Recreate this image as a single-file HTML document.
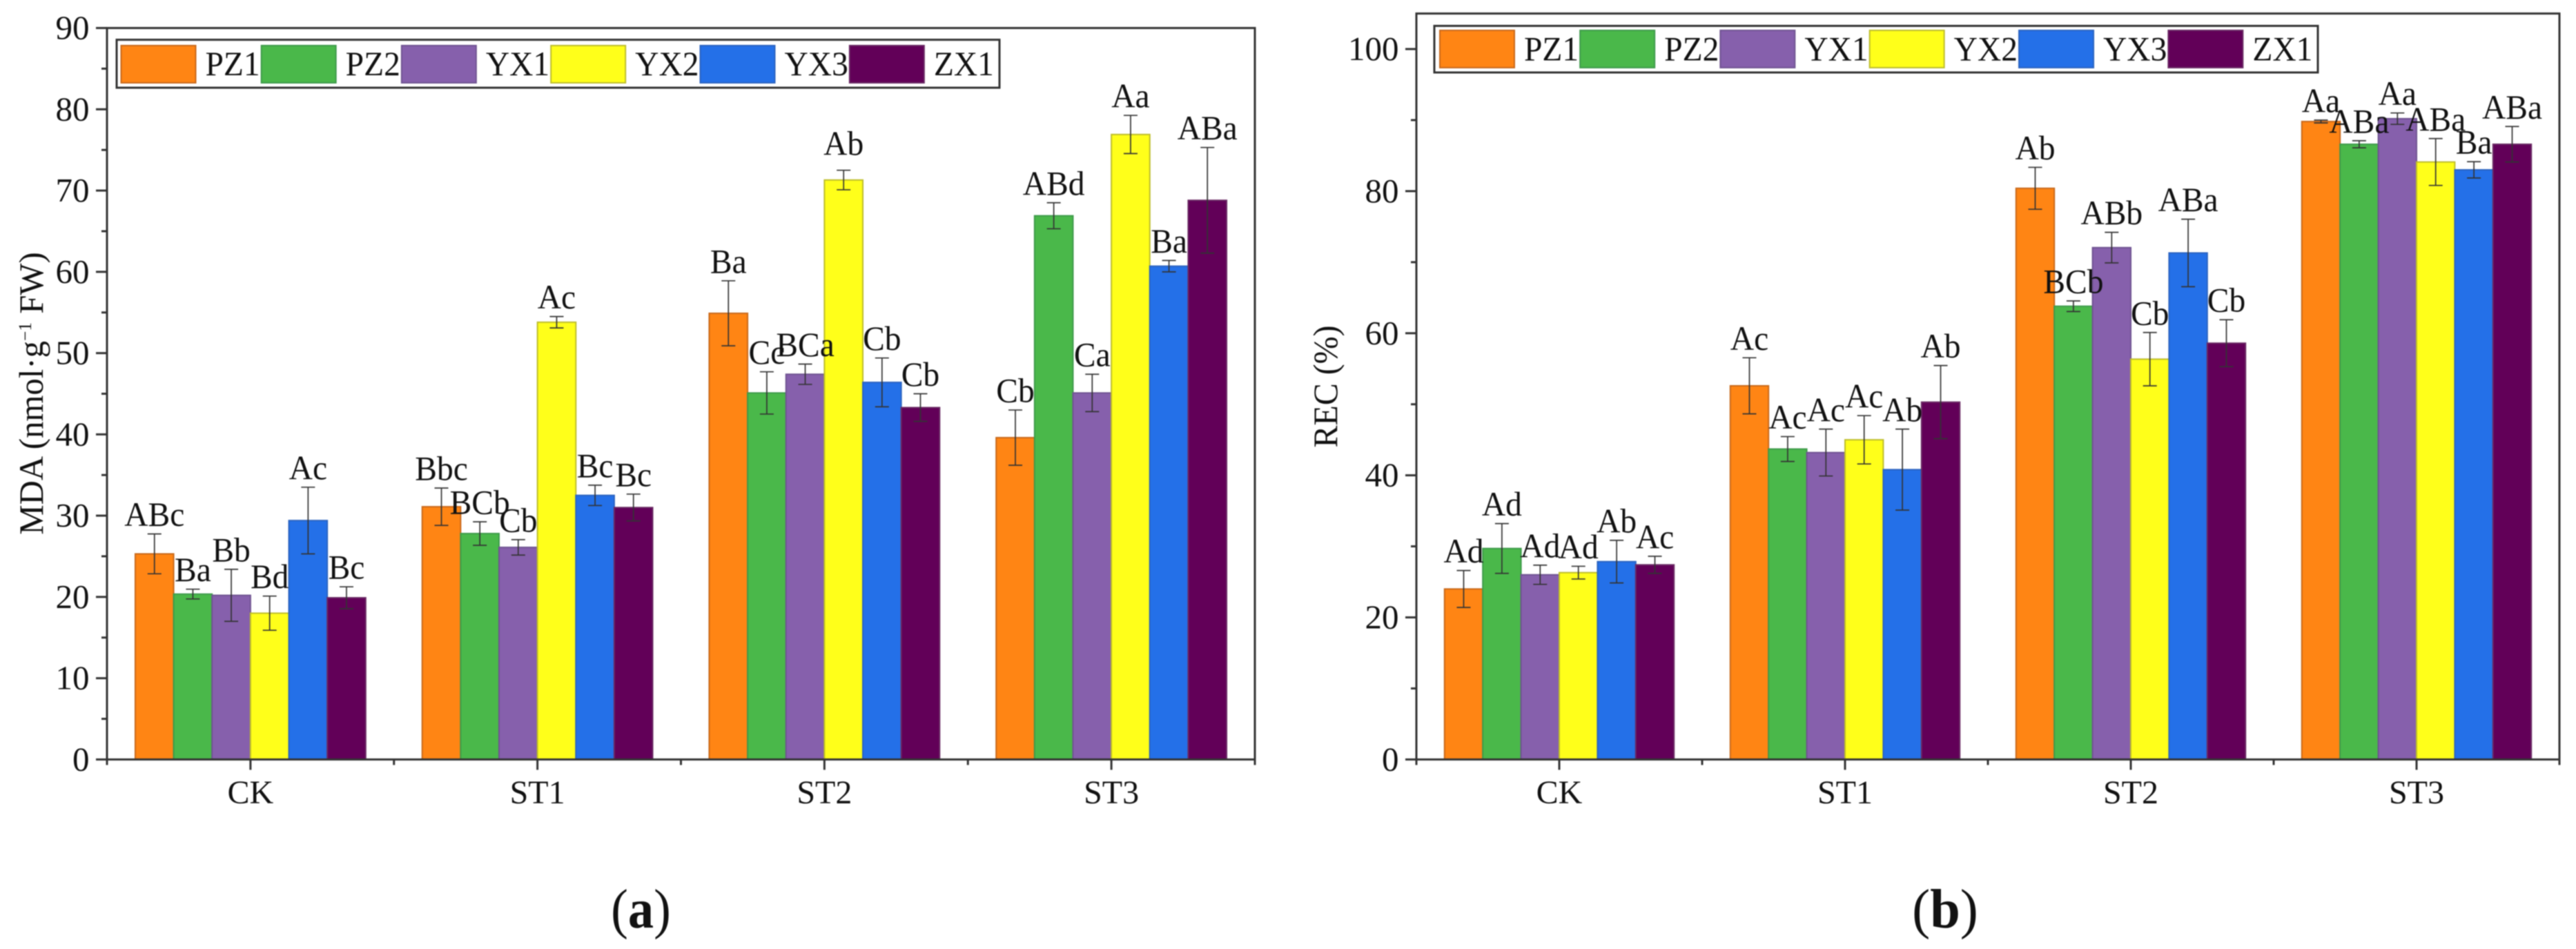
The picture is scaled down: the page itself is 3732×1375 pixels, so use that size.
<!DOCTYPE html>
<html lang="en">
<head>
<meta charset="utf-8">
<title>MDA and REC bar charts</title>
<style>
html,body{margin:0;padding:0;background:#fff;width:3732px;height:1375px;overflow:hidden}
svg{display:block;filter:blur(0.7px)}
text{font-family:"Liberation Serif",serif;fill:#111}
</style>
</head>
<body>
<svg id="figure" xmlns="http://www.w3.org/2000/svg" width="3732" height="1375" viewBox="0 0 3732 1375">
  <rect width="3732" height="1375" fill="#fff"/>
  <text transform="translate(928.5 1344) scale(0.93 1)" font-size="80" text-anchor="middle">(<tspan font-weight="bold">a</tspan>)</text>
  <text transform="translate(2818 1344) scale(0.98 1)" font-size="80" text-anchor="middle">(<tspan font-weight="bold">b</tspan>)</text>
</svg>
<script>
const categories = ['CK', 'ST1', 'ST2', 'ST3'];
const seriesNames = ['PZ1', 'PZ2', 'YX1', 'YX2', 'YX3', 'ZX1'];

const mdaTicks = [0, 10, 20, 30, 40, 50, 60, 70, 80, 90];
const mdaMinorTicks = [5, 15, 25, 35, 45, 55, 65, 75, 85];
const mdaMeans = [
  [25.3, 20.35, 20.2, 18.0, 29.4, 19.9],
  [31.1, 27.8, 26.1, 53.8, 32.5, 31.0],
  [54.9, 45.1, 47.4, 71.3, 46.4, 43.3],
  [39.6, 66.9, 45.1, 76.9, 60.7, 68.8]
];
const mdaErrors = [
  [2.45, 0.6, 3.2, 2.1, 4.1, 1.35],
  [2.3, 1.45, 0.95, 0.7, 1.25, 1.65],
  [4.0, 2.6, 1.25, 1.2, 3.0, 1.7],
  [3.4, 1.6, 2.3, 2.35, 0.7, 6.5]
];
const mdaLetters = [
  ['ABc', 'Ba', 'Bb', 'Bd', 'Ac', 'Bc'],
  ['Bbc', 'BCb', 'Cb', 'Ac', 'Bc', 'Bc'],
  ['Ba', 'Cc', 'BCa', 'Ab', 'Cb', 'Cb'],
  ['Cb', 'ABd', 'Ca', 'Aa', 'Ba', 'ABa']
];

const recTicks = [0, 20, 40, 60, 80, 100];
const recMinorTicks = [10, 30, 50, 70, 90];
const recMeans = [
  [24.0, 29.7, 26.0, 26.3, 27.85, 27.4],
  [52.6, 43.7, 43.2, 45.0, 40.8, 50.3],
  [80.4, 63.8, 72.05, 56.35, 71.3, 58.6],
  [89.8, 86.6, 90.2, 84.1, 83.0, 86.6]
];
const recErrors = [
  [2.6, 3.5, 1.35, 0.9, 3.0, 1.2],
  [3.95, 1.75, 3.3, 3.4, 5.7, 5.15],
  [2.95, 0.75, 2.15, 3.75, 4.75, 3.3],
  [0.2, 0.5, 0.8, 3.3, 1.15, 2.5]
];
const recLetters = [
  ['Ad', 'Ad', 'Ad', 'Ad', 'Ab', 'Ac'],
  ['Ac', 'Ac', 'Ac', 'Ac', 'Ab', 'Ab'],
  ['Ab', 'BCb', 'ABb', 'Cb', 'ABa', 'Cb'],
  ['Aa', 'ABa', 'Aa', 'ABa', 'Ba', 'ABa']
];

const fillColors = ['#FF8514', '#4AB84A', '#8660AC', '#FFFF1A', '#2470E8', '#620058'];
const edgeColors = ['#c8681a', '#3d9a4a', '#6f5391', '#bdbd2a', '#2b63c0', '#6a2a64'];
const inkColor = '#333';

const NS = 'http://www.w3.org/2000/svg';
const figure = document.getElementById('figure');

function make(parent, tag, attrs, content) {
  const el = document.createElementNS(NS, tag);
  for (const k in attrs) el.setAttribute(k, attrs[k]);
  if (content !== undefined) el.textContent = content;
  parent.appendChild(el);
  return el;
}

function drawPanel(p) {
  const root = make(figure, 'g', {});
  
  

  const yPos = v => p.bottom - (v - 0) * (p.bottom - p.top) / p.yMax;
  const band = (p.right - p.left) / categories.length;
  const xPos = i => p.left + band * (i + 0.5);
  const barW = band * 0.803 / seriesNames.length;

  // bars
  p.means.forEach((row, c) => {
    row.forEach((v, s) => {
      const x = xPos(c) + (s - seriesNames.length / 2) * barW;
      const bar = make(root, 'rect', {
        x: x, y: yPos(v), width: barW, height: p.bottom - yPos(v),
        fill: fillColors[s], stroke: edgeColors[s], 'stroke-width': 2
      });
      
      
    });
  });

  // error bars
  p.means.forEach((row, c) => {
    row.forEach((v, s) => {
      const cx = xPos(c) + (s - seriesNames.length / 2 + 0.5) * barW;
      const hi = yPos(v + p.errors[c][s]);
      const lo = yPos(v - p.errors[c][s]);
      const err = make(root, 'path', {
        d: 'M' + (cx - 10) + ' ' + hi + 'H' + (cx + 10) + 'M' + cx + ' ' + hi + 'V' + lo + 'M' + (cx - 10) + ' ' + lo + 'H' + (cx + 10),
        fill: 'none', stroke: '#333', 'stroke-width': 1.7
      });
      
      
    });
  });

  // axis frame
  const frame = make(root, 'rect', {
    x: p.left, y: p.top, width: p.right - p.left, height: p.bottom - p.top,
    fill: 'none', stroke: inkColor, 'stroke-width': 3
  });
  
  

  // y ticks
  p.ticks.forEach(t => {
    const tick = make(root, 'line', {
      x1: p.left - 16, x2: p.left, y1: yPos(t), y2: yPos(t), stroke: inkColor, 'stroke-width': 3
    });
    
    
    const label = make(root, 'text', {
      x: p.left - 25.5, y: yPos(t) + 16, 'font-size': 49, 'text-anchor': 'end'
    }, String(t));
    
    
  });
  p.minorTicks.forEach(t => {
    const tick = make(root, 'line', {
      x1: p.left - 8, x2: p.left, y1: yPos(t), y2: yPos(t), stroke: inkColor, 'stroke-width': 3
    });
    
    
  });

  // x ticks
  categories.forEach((name, i) => {
    const tick = make(root, 'line', {
      x1: xPos(i), x2: xPos(i), y1: p.bottom, y2: p.bottom + 15, stroke: inkColor, 'stroke-width': 3
    });
    
    
    const label = make(root, 'text', {
      x: xPos(i), y: p.bottom + 63.5, 'font-size': 48, 'text-anchor': 'middle'
    }, name);
    
    
  });
  for (let i = 0; i <= categories.length; i++) {
    const tick = make(root, 'line', {
      x1: p.left + band * i, x2: p.left + band * i, y1: p.bottom, y2: p.bottom + 8, stroke: inkColor, 'stroke-width': 3
    });
    
    
  }

  // significance letters
  p.means.forEach((row, c) => {
    row.forEach((v, s) => {
      const cx = xPos(c) + (s - seriesNames.length / 2 + 0.5) * barW;
      const gap = p.letterGapOverrides[c + ',' + s] || 11.5;
      const ly = yPos(v + p.errors[c][s]) - gap;
      const label = make(root, 'text', {
        transform: 'translate(' + cx + ' ' + ly + ') scale(0.95 1)', 'font-size': 50, 'text-anchor': 'middle'
      }, p.letters[c][s]);
      
      
    });
  });

  // y axis title
  const title = make(root, 'text', {
    transform: 'translate(' + p.titleX + ' ' + p.titleY + ') rotate(-90) scale(' + p.titleScale + ' 1)',
    'font-size': 50, 'text-anchor': 'middle'
  });
  
  
  p.title.forEach(part => {
    const span = make(title, 'tspan', part.sup ? { 'font-size': 26, dy: -17 } : (part.after ? { dy: 17 } : {}), part.text);
    
    
  });

  // legend
  const legend = make(root, 'g', {});
  
  
  const box = make(legend, 'rect', {
    x: p.legendX, y: p.legendY, width: p.legendW, height: p.legendH,
    fill: '#fff', stroke: inkColor, 'stroke-width': 3
  });
  
  
  let cursor = p.legendX + p.legendPad;
  seriesNames.forEach((name, s) => {
    const swatch = make(legend, 'rect', {
      x: cursor, y: p.legendY + p.swatchOffset, width: 108, height: 54,
      fill: fillColors[s], stroke: edgeColors[s], 'stroke-width': 2
    });
    
    
    const label = make(legend, 'text', {
      transform: 'translate(' + (cursor + 122) + ' ' + (p.legendY + p.legendBaseline) + ') scale(0.95 1)', 'font-size': 50
    }, name);
    
    
    cursor += 124 + label.getComputedTextLength() * 0.95;
  });
}

drawPanel({
  id: 'mda', left: 155, right: 1818, top: 40.6, bottom: 1100.4, yMax: 90,
  ticks: mdaTicks, minorTicks: mdaMinorTicks,
  means: mdaMeans, errors: mdaErrors, letters: mdaLetters,
  letterGapOverrides: { '2,3': 22 },
  title: [{ text: 'MDA (nmol·g' }, { text: '−1', sup: true }, { text: ' FW)', after: true }],
  titleX: 62, titleY: 570, titleScale: 0.977,
  legendX: 169, legendY: 57.6, legendW: 1279, legendH: 69.5, legendPad: 6.5,
  swatchOffset: 8.4, legendBaseline: 51.5
});

drawPanel({
  id: 'rec', left: 2052, right: 3708, top: 19.6, bottom: 1100.4, yMax: 105,
  ticks: recTicks, minorTicks: recMinorTicks,
  means: recMeans, errors: recErrors, letters: recLetters,
  letterGapOverrides: {},
  title: [{ text: 'REC (%)' }],
  titleX: 1937, titleY: 560, titleScale: 0.96,
  legendX: 2078, legendY: 37.5, legendW: 1280, legendH: 67.5, legendPad: 8,
  swatchOffset: 6.5, legendBaseline: 50
});
</script>
</body>
</html>
